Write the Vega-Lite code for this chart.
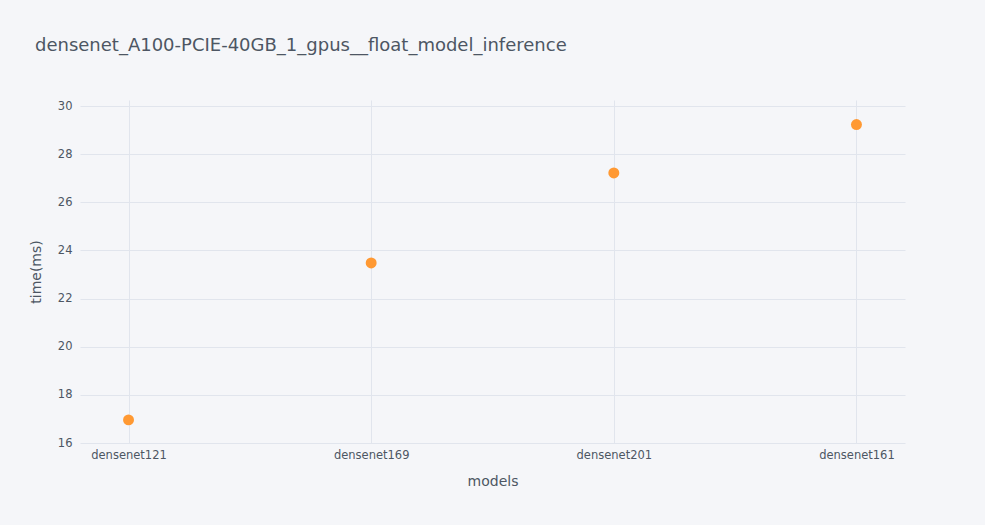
{
  "$schema": "https://vega.github.io/schema/vega-lite/v6.json",
  "width": 825,
  "height": 343,
  "autosize": {"type": "none"},
  "padding": {"left": 80, "top": 100, "right": 80, "bottom": 82},
  "background": "#F5F6F9",
  "config": {
    "view": {"stroke": null, "fill": "#F5F6F9"},
    "font": "DejaVu Sans",
    "axis": {"labelFont": "DejaVu Sans", "titleFont": "DejaVu Sans", "labelColor": "#4D5663", "titleColor": "#4D5663", "gridColor": "#E1E5ED", "gridWidth": 1, "domain": false, "ticks": false, "labelFontSize": 11.5, "titleFontSize": 14, "titleFontWeight": "normal"}
  },
  "title": {"text": "densenet_A100-PCIE-40GB_1_gpus__float_model_inference", "anchor": "start", "frame": "group", "dx": -45, "offset": 45, "fontSize": 18, "fontWeight": "normal", "color": "#4D5663", "font": "DejaVu Sans"},
  "data": {"values": [
    {"model": "densenet121", "time": 16.96},
    {"model": "densenet169", "time": 23.48},
    {"model": "densenet201", "time": 27.22},
    {"model": "densenet161", "time": 29.23}
  ]},
  "mark": {"type": "circle", "size": 120, "color": "#FF9933", "opacity": 1},
  "encoding": {
    "x": {"field": "model", "type": "nominal", "sort": null, "scale": {"type": "point", "padding": 0.2}, "axis": {"labelAngle": 0, "grid": true, "title": "models", "labelPadding": 6, "titlePadding": 14}},
    "y": {"field": "time", "type": "quantitative", "scale": {"domain": [16, 30.25], "nice": false, "zero": false}, "axis": {"values": [16, 18, 20, 22, 24, 26, 28, 30], "title": "time(ms)", "labelPadding": 8, "titlePadding": 14}}
  }
}
